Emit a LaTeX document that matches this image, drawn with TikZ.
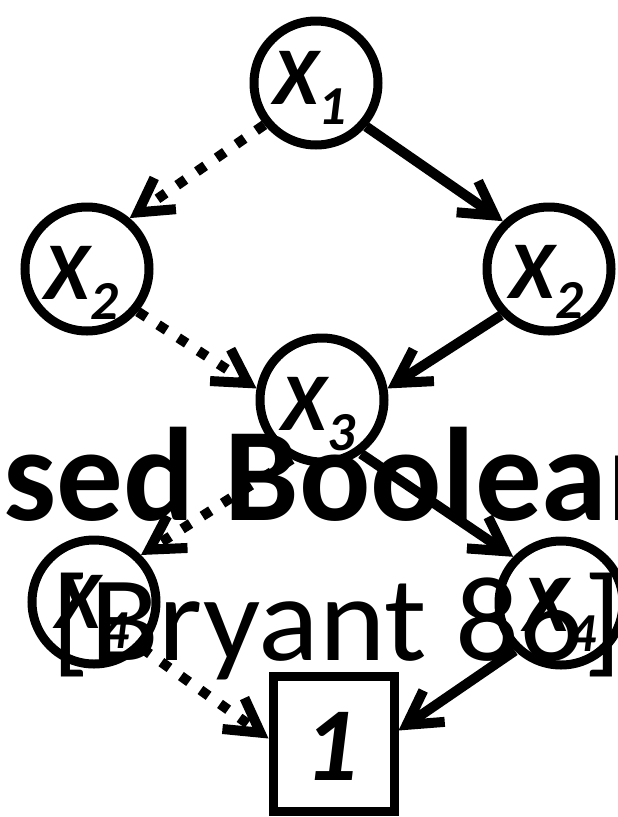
\documentclass[tikz,border=0pt]{standalone}
\usepackage{fontspec}
\setmainfont{Carlito}
\usetikzlibrary{arrows.meta}
\newcommand\xlab[1]{{\fontsize{82}{82}\selectfont\bfseries\itshape X\raisebox{-20pt}{\fontsize{55}{55}\selectfont #1}}}
\begin{document}
\begin{tikzpicture}[x=1pt,y=-1pt,
  vnode/.style={circle,draw,line width=9pt,minimum size=124pt,inner sep=0pt,fill=white},
  tnode/.style={rectangle,draw,line width=9pt,minimum width=121pt,minimum height=135pt,inner sep=0pt,fill=white},
  lbl/.style={inner sep=0pt},
  solidedge/.style={line width=10pt,-{Straight Barb[length=33pt,width=38pt]}},
  dashededge/.style={line width=10pt,dash pattern=on 10pt off 14pt,-{Straight Barb[length=33pt,width=38pt,line width=10pt]}},
  bigtext/.style={anchor=base west,inner sep=0pt}
  ]
\path[use as bounding box, clip] (0,0) rectangle (618,817);
\fill[white] (0,0) rectangle (618,817);
% nodes
\node[vnode] (x1) at (316,83) {};
\node[vnode] (x2l) at (87,269) {};
\node[vnode] (x2r) at (549,269) {};
\node[vnode] (x3) at (322,400) {};
\node[vnode] (x4l) at (94,602) {};
\node[vnode] (x4r) at (561,603) {};
\node[tnode] (one) at (333.5,743.5) {};
% labels
\node[lbl] (l1) at (310,87.5) {\xlab{1}};
\node[lbl] (l2l) at (81.5,282.5) {\xlab{2}};
\node[lbl] (l2r) at (546.5,281.5) {\xlab{2}};
\node[lbl] (l3) at (318.5,414.5) {\xlab{3}};
\node[lbl] (l4l) at (92.5,612) {\xlab{4}};
\node[lbl] (l4r) at (560,615) {\xlab{4}};
\node[lbl] (lone) at (331.5,746.5) {\fontsize{105}{105}\selectfont\bfseries\itshape 1};
% edges
\draw[dashededge] (x1.-141) -- (x2l.50);
\draw[solidedge] (x1.-41) -- (x2r.134);
\draw[dashededge] (x2l.-40) -- (x3.170);
\draw[solidedge] (x2r.-136) -- (x3.10);
\draw[dashededge] (x3.-117) -- (x4l.45);
\draw[solidedge] (x3.-54) -- (x4r.136);
\draw[dashededge] (x4l.-44) -- ([yshift=5pt]one.west);
\draw[solidedge] (x4r.-134) -- ([yshift=13pt]one.east);
% overlaid slide text
\node[bigtext,font=\fontsize{133}{133}\selectfont\bfseries] (t1) at (3,520) {sed Boolean};
\node[bigtext,xscale=1.045,font=\fontsize{121}{121}\selectfont] (t2) at (51,660) {[Bryant 86]};
\end{tikzpicture}
\end{document}
